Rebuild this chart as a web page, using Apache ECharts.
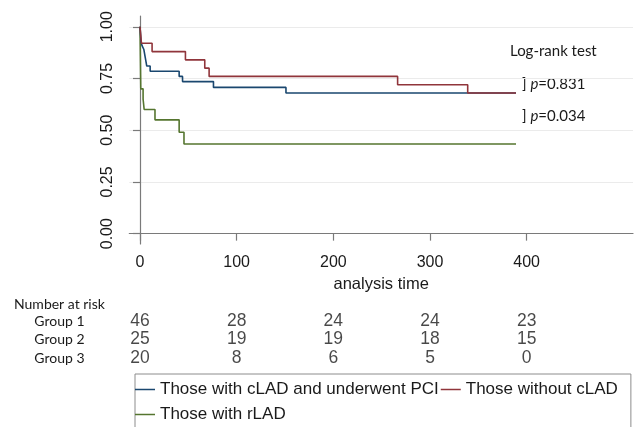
<!DOCTYPE html>
<html>
<head>
<meta charset="utf-8">
<script src="https://cdn.jsdelivr.net/npm/echarts@6/dist/echarts.min.js"></script>
<style>html,body{margin:0;padding:0;background:#fff}#c{width:640px;height:427px}</style>
</head>
<body>
<div id="c"></div>
<script>
// ---- data ----
const seriesNames = ['Those with cLAD and underwent PCI', 'Those without cLAD', 'Those with rLAD'];
const blueTime = [0, 1, 2, 4, 5.5, 7, 10.5, 40.5, 44, 76, 151, 389];
const blueSurv = [1, 0.93, 0.91, 0.89, 0.85, 0.81, 0.785, 0.76, 0.735, 0.707, 0.68, 0.68];
const redTime = [0, 1.5, 12.5, 47, 67, 71.5, 266.5, 339, 389];
const redSurv = [1, 0.92, 0.88, 0.84, 0.80, 0.76, 0.72, 0.68, 0.68];
const greenTime = [0, 0.8, 3.2, 4.3, 15.5, 40.5, 45.5, 389];
const greenSurv = [1, 0.70, 0.65, 0.60, 0.55, 0.49, 0.433, 0.433];
const xTicks = [0, 100, 200, 300, 400];
const yTicks = [0, 0.25, 0.5, 0.75, 1];
const riskGroups = ['Group 1', 'Group 2', 'Group 3'];
const riskTimes = [0, 100, 200, 300, 400];
const risk1 = [46, 28, 24, 24, 23];
const risk2 = [25, 19, 19, 18, 15];
const risk3 = [20, 8, 6, 5, 0];
const pValues = ['0.831', '0.034'];

const zip = (a, b) => a.map((v, i) => [v, b[i]]);
const riskData = [];
[risk1, risk2, risk3].forEach((arr, g) => {
  arr.forEach((v, i) => riskData.push([riskTimes[i], riskGroups[g], v]));
});

const arial = 'Liberation Sans, Arial, sans-serif';
const calib = 'Lato, Carlito, sans-serif';
const axisCol = '#7a7a7a';
const txtCol = '#1a1a1a';
const XMIN = -11.07, XMAX = 510;

const chart = echarts.init(document.getElementById('c'), null, {renderer: 'canvas'});
chart.setOption({
  animation: false,
  backgroundColor: '#fff',
  grid: [
    {left: 129.3, right: 7, top: 16, bottom: 183},
    {left: 129.3, right: 7, top: 311.7, height: 55.9}
  ],
  xAxis: [{
    gridIndex: 0, type: 'value', min: XMIN, max: XMAX,
    name: 'analysis time', nameLocation: 'middle', nameGap: 22,
    nameTextStyle: {fontFamily: arial, fontSize: 16.5, color: txtCol},
    axisLine: {show: true, lineStyle: {color: axisCol, width: 1.2}},
    axisTick: {show: true, length: 7, lineStyle: {color: axisCol, width: 1.2}, customValues: xTicks},
    axisLabel: {customValues: xTicks, margin: 11, fontFamily: arial, fontSize: 16, color: txtCol},
    splitLine: {show: false}
  }, {
    gridIndex: 1, type: 'value', min: XMIN, max: XMAX, show: false
  }],
  yAxis: [{
    gridIndex: 0, type: 'value', min: -0.05, max: 1.052,
    axisLine: {show: true, lineStyle: {color: axisCol, width: 1.2}},
    axisTick: {show: true, length: 7, lineStyle: {color: axisCol, width: 1.2}, customValues: yTicks},
    axisLabel: {customValues: yTicks, rotate: 90, margin: 14, fontFamily: arial, fontSize: 16, color: txtCol,
      formatter: v => v.toFixed(2)},
    splitLine: {show: true, lineStyle: {color: '#ebebeb', width: 1}}
  }, {
    gridIndex: 1, type: 'category', data: riskGroups, inverse: true,
    axisLine: {show: false}, axisTick: {show: false}, splitLine: {show: false},
    axisLabel: {align: 'left', margin: 95, fontFamily: calib, fontSize: 14, color: txtCol}
  }],
  legend: {
    data: seriesNames,
    left: 135, top: 374,
    width: 500,
    orient: 'horizontal',
    icon: 'path://M0,0 L40,0 L40,3 L0,3 Z',
    itemWidth: 20, itemHeight: 16, itemGap: 2,
    padding: [4, 13, 40, 0],
    borderColor: '#8c8c8c', borderWidth: 1,
    textStyle: {fontFamily: arial, fontSize: 17, lineHeight: 23, color: txtCol},
    selectedMode: false
  },
  graphic: [
    {type: 'text', left: 14, top: 297, style: {text: 'Number at risk', font: '14px ' + calib, fill: txtCol}},
    {type: 'text', left: 510, top: 44, style: {text: 'Log-rank test', font: '15px ' + calib, fill: txtCol}},
    {type: 'text', left: 522, top: 77, style: {
      text: '] {i|p}=' + pValues[0], font: '15px ' + calib, fill: txtCol,
      rich: {i: {fontStyle: 'italic', fontFamily: calib, fontSize: 15, fill: txtCol}}}},
    {type: 'text', left: 522, top: 109, style: {
      text: '] {i|p}=' + pValues[1], font: '15px ' + calib, fill: txtCol,
      rich: {i: {fontStyle: 'italic', fontFamily: calib, fontSize: 15, fill: txtCol}}}}
  ],
  series: [
    {name: seriesNames[2], type: 'line', step: 'end', data: zip(greenTime, greenSurv), showSymbol: false, symbol: 'none',
      color: '#55752f', lineStyle: {width: 1.6}, xAxisIndex: 0, yAxisIndex: 0},
    {name: seriesNames[0], type: 'line', step: 'end', data: zip(blueTime, blueSurv), showSymbol: false, symbol: 'none',
      color: '#1a476f', lineStyle: {width: 1.6}, xAxisIndex: 0, yAxisIndex: 0},
    {name: seriesNames[1], type: 'line', step: 'end', data: zip(redTime, redSurv), showSymbol: false, symbol: 'none',
      color: '#90353b', lineStyle: {width: 1.6}, xAxisIndex: 0, yAxisIndex: 0},
    {name: 'risk', type: 'scatter', xAxisIndex: 1, yAxisIndex: 1, data: riskData, symbolSize: 1,
      itemStyle: {color: 'rgba(0,0,0,0)'}, silent: true,
      label: {show: true, position: 'inside', formatter: p => String(p.value[2]),
        fontFamily: arial, fontSize: 17.5, color: txtCol}}
  ]
});
</script>
</body>
</html>
